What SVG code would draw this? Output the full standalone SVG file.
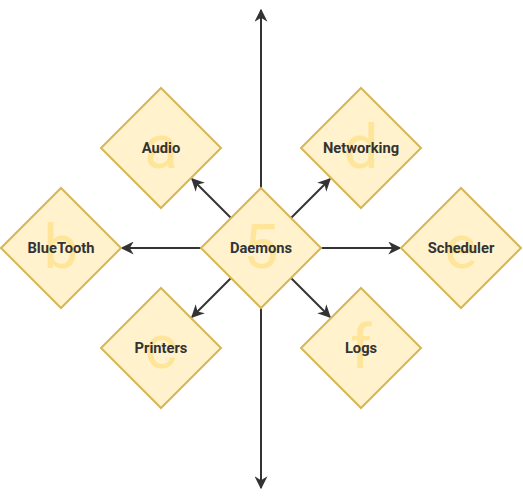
<svg xmlns="http://www.w3.org/2000/svg" width="523" height="498" viewBox="0 0 523 498">
<style>
.d{fill:#fff2cc;stroke:#d6b656;stroke-width:2}
.big{font-family:Roboto,"Liberation Sans",sans-serif;font-size:62px;fill:#ffe599;text-anchor:middle}
.lbl{font-family:Roboto,"Liberation Sans",sans-serif;font-size:14.7px;font-weight:bold;fill:#333;text-anchor:middle;dominant-baseline:central}
.c{stroke:#333;stroke-width:2;fill:none;marker-end:url(#ah)}
</style>
<defs>
<marker id="ah" viewBox="0 0 10 10" refX="9" refY="5" markerWidth="6.5" markerHeight="6.5" orient="auto" markerUnits="strokeWidth">
<path d="M0,0 L10,5 L0,10 L3,5 Z" fill="#333"/>
</marker>
</defs>
<g id="connectors">
<line class="c" x1="261" y1="248" x2="261" y2="10"/>
<line class="c" x1="261" y1="248" x2="261" y2="488"/>
<line class="c" x1="201" y1="248" x2="122" y2="248"/>
<line class="c" x1="321" y1="248" x2="400" y2="248"/>
<line class="c" x1="231" y1="218" x2="192" y2="179"/>
<line class="c" x1="291" y1="218" x2="330" y2="179"/>
<line class="c" x1="231" y1="278" x2="192" y2="317"/>
<line class="c" x1="291" y1="278" x2="330" y2="317"/>
</g>
<g id="audio"><path class="d" d="M161,88 L221,148 L161,208 L101,148 Z"/><text class="big" x="161" y="168">a</text><text class="lbl" x="161" y="148">Audio</text></g>
<g id="bluetooth"><path class="d" d="M61,188 L121,248 L61,308 L1,248 Z"/><text class="big" x="61" y="268">b</text><text class="lbl" x="61" y="248">BlueTooth</text></g>
<g id="printers"><path class="d" d="M161,288 L221,348 L161,408 L101,348 Z"/><text class="big" x="161" y="368">c</text><text class="lbl" x="161" y="348">Printers</text></g>
<g id="networking"><path class="d" d="M361,88 L421,148 L361,208 L301,148 Z"/><text class="big" x="361" y="168">d</text><text class="lbl" x="361" y="148">Networking</text></g>
<g id="scheduler"><path class="d" d="M461,188 L521,248 L461,308 L401,248 Z"/><text class="big" x="461" y="268">e</text><text class="lbl" x="461" y="248">Scheduler</text></g>
<g id="logs"><path class="d" d="M361,288 L421,348 L361,408 L301,348 Z"/><text class="big" x="361" y="368">f</text><text class="lbl" x="361" y="348">Logs</text></g>
<g id="daemons"><path class="d" d="M261,188 L321,248 L261,308 L201,248 Z"/><text class="big" x="261" y="268">5</text><text class="lbl" x="261" y="248">Daemons</text></g>
</svg>
